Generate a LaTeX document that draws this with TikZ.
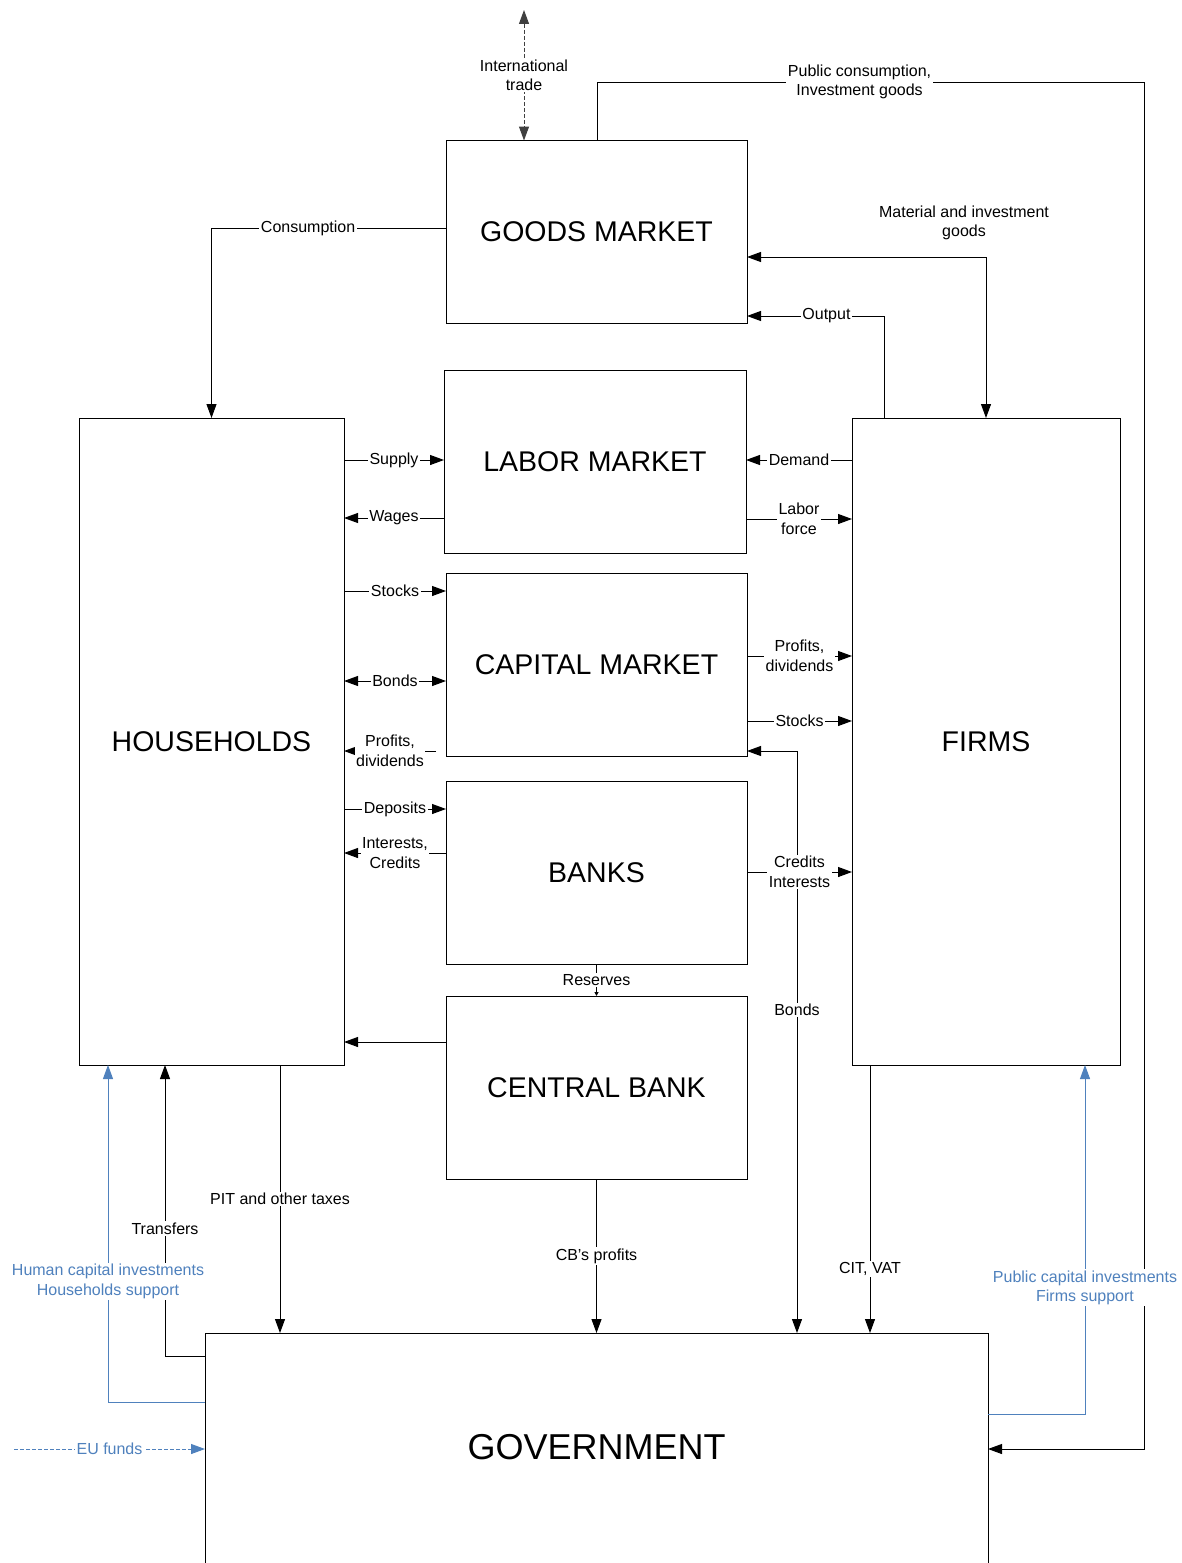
\documentclass[tikz,border=0pt]{standalone}
\usepackage{fontspec}
\setmainfont{Liberation Sans}
\usetikzlibrary{arrows.meta}
\definecolor{fundblue}{RGB}{79,129,189}
\tikzset{
  sector/.style={draw,line width=1pt,inner sep=0pt,outer sep=0pt,minimum width=301pt,minimum height=183pt,font=\fontsize{28.5}{32}\selectfont},
  flow/.style={line width=1pt,->},
  lbl/.style={fill=white,text=black,inner sep=1.5pt,align=center,font=\fontsize{16}{19.5}\selectfont},
}

\begin{document}
\begin{tikzpicture}[x=1pt,y=-1pt,>={Triangle[length=14pt,width=10pt]}]
  \useasboundingbox (0,0) rectangle (1182,1563);
  \clip (0,0) rectangle (1182,1563);
  % sectors
  \node[sector] (goods) at (596.5,232) {GOODS MARKET};
  \node[sector,minimum width=302pt] (labor) at (595,462) {LABOR MARKET};
  \node[sector] (capital) at (596.5,664.5) {CAPITAL MARKET};
  \node[sector] (banks) at (596.5,872.5) {BANKS};
  \node[sector] (cbank) at (596.5,1087.5) {CENTRAL BANK};
  \node[sector,minimum width=265pt,minimum height=647pt] (hh) at (211.5,741.5) {HOUSEHOLDS};
  \node[sector,minimum width=268pt,minimum height=647pt] (firms) at (986,741.5) {FIRMS};
  \node[sector,minimum width=783pt,minimum height=254pt,label={[font=\fontsize{36}{40}\selectfont,yshift=13pt]center:GOVERNMENT}] (gov) at (596.5,1460) {};
  \coordinate (world) at (524,10);
  \coordinate (pdstart) at (436,751);
  \coordinate (eu) at (14,1449);
  % goods market
  \draw[flow,<->,black!75,dash pattern=on 4pt off 2pt] (world) -- node[lbl] {International\\trade} (goods.north -| world);
  \draw[flow] (goods.north -| 597,0) |- node[lbl,pos=0.74] {Public consumption,\\Investment goods} (1144,82) |- (gov.east |- 0,1449);
  \draw[flow] (goods.west |- 0,228) -| node[lbl,pos=0.294] {Consumption} (hh.north);
  \draw[flow,<->] (goods.east |- 0,257) -| node[lbl,fill=none,pos=0.454,above=15pt] {Material and investment\\goods} (firms.north);
  \draw[flow] (firms.north -| 884,0) |- node[lbl,pos=0.71] {Output} (goods.east |- 0,316);
  % labor market
  \draw[flow] (hh.east |- 0,460) -- node[lbl] {Supply} (labor.west |- 0,460);
  \draw[flow] (firms.west |- 0,460) -- node[lbl] {Demand} (labor.east |- 0,460);
  \draw[flow] (labor.west |- 0,518) -- node[lbl] {Wages} (hh.east |- 0,518);
  \draw[flow] (labor.east |- 0,519) -- node[lbl] {Labor\\force} (firms.west |- 0,519);
  % capital market
  \draw[flow] (hh.east |- 0,591) -- node[lbl] {Stocks} (capital.west |- 0,591);
  \draw[flow,<->] (hh.east |- 0,681) -- node[lbl] {Bonds} (capital.west |- 0,681);
  \draw[flow] (pdstart) -- node[lbl] {Profits,\\dividends} (hh.east |- pdstart);
  \draw[flow] (capital.east |- 0,656) -- node[lbl] {Profits,\\dividends} (firms.west |- 0,656);
  \draw[flow] (capital.east |- 0,721) -- node[lbl] {Stocks} (firms.west |- 0,721);
  \draw[flow,<->] (capital.east |- 0,751) -| node[lbl,pos=0.7225] {Bonds} (gov.north -| 797,0);
  % banks
  \draw[flow] (banks.east |- 0,872) -- node[lbl] {Credits\\Interests} (firms.west |- 0,872);
  \draw[flow] (hh.east |- 0,809) -- node[lbl] {Deposits} (banks.west |- 0,809);
  \draw[flow] (banks.west |- 0,853) -- node[lbl] {Interests,\\Credits} (hh.east |- 0,853);
  \draw[line width=1pt,-{Triangle[length=4pt,width=4pt]}] (banks.south) -- node[lbl] {Reserves} (cbank.north);
  % central bank
  \draw[flow] (cbank.west |- 0,1042) -- (hh.east |- 0,1042);
  \draw[flow] (cbank.south) -- node[lbl] {CB’s profits} (gov.north -| cbank.south);
  % government
  \draw[flow] (hh.south -| 280,0) -- node[lbl] {PIT and other taxes} (gov.north -| 280,0);
  \draw[flow] (gov.west |- 0,1356) -| node[lbl,pos=0.719] {Transfers} (hh.south -| 165,0);
  \draw[flow,fundblue] (gov.west |- 0,1402) -| node[lbl,text=fundblue,pos=0.679] {Human capital investments\\Households support} (hh.south -| 108,0);
  \draw[flow] (firms.south -| 870,0) -- node[lbl,pos=0.76] {CIT, VAT} (gov.north -| 870,0);
  \draw[flow,fundblue] (gov.east |- 0,1414) -| node[lbl,text=fundblue,pos=0.681] {Public capital investments\\Firms support} (firms.south -| 1085,0);
  \draw[flow,fundblue,dash pattern=on 4pt off 2pt] (eu) -- node[lbl,text=fundblue] {EU funds} (gov.west |- eu);
\end{tikzpicture}
\end{document}
